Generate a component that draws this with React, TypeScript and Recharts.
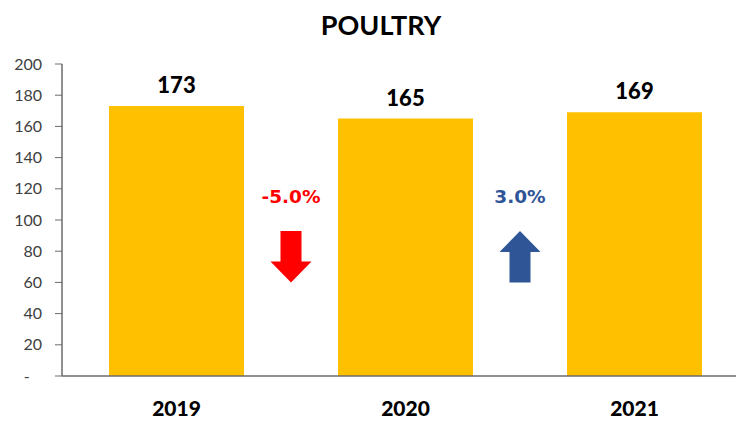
import { BarChart, Bar, XAxis, YAxis, LabelList } from 'recharts';

const years = ['2019', '2020', '2021'];
const poultry = [173, 165, 169];
const yTicks = [0, 20, 40, 60, 80, 100, 120, 140, 160, 180, 200];

// year-over-year change, drawn between each pair of bars
const changes = ['-5.0%', '3.0%'];
const changeDirections = ['down', 'up'];
const changeColors = ['#FF0000', '#2F5597'];

const CHART_W = 750;
const CHART_H = 422;
const Y_AXIS_W = 62;
const MARGIN = { top: 64, right: 1, bottom: 0, left: 0 };
const BAND = (CHART_W - Y_AXIS_W - MARGIN.right - MARGIN.left) / years.length;

// where the annotations sit, in axis units
const CHANGE_TEXT_AT = 111;
const ARROW_TOP = 93;
const ARROW_BOTTOM = 60;

const data = years.map((year, i) => ({ year, value: poultry[i] }));

function ChangeMark(props: any) {
  const { index } = props;
  if (index >= changes.length) return null;
  const vb = props.viewBox ?? props;
  const { x, y, width, height } = vb;
  const value = poultry[index];
  const base = y + height;
  const perUnit = height / value;
  const yOf = (v: number) => base - v * perUnit;
  const cx = x + width + (BAND - width) / 2;
  const top = yOf(ARROW_TOP);
  const bot = yOf(ARROW_BOTTOM);
  const hw = 20.5;
  const sw = 10.5;
  const head = 21;
  const pts =
    changeDirections[index] === 'down'
      ? [
          [cx - sw, top], [cx + sw, top], [cx + sw, bot - head], [cx + hw, bot - head],
          [cx, bot], [cx - hw, bot - head], [cx - sw, bot - head],
        ]
      : [
          [cx, top], [cx + hw, top + head], [cx + sw, top + head], [cx + sw, bot],
          [cx - sw, bot], [cx - sw, top + head], [cx - hw, top + head],
        ];
  const color = changeColors[index];
  return (
    <g>
      <text
        x={cx}
        y={yOf(CHANGE_TEXT_AT)}
        textAnchor="middle"
        fill={color}
        fontFamily="'DejaVu Sans', sans-serif"
        fontWeight="bold"
        fontSize={18.5}
      >
        {changes[index]}
      </text>
      <polygon points={pts.map((p) => p.join(',')).join(' ')} fill={color} />
    </g>
  );
}

export default function App() {
  return (
    <div
      style={{
        position: 'absolute',
        left: 0,
        top: 0,
        width: 736,
        height: 422,
        overflow: 'hidden',
        background: '#fff',
      }}
    >
      <div
        style={{
          position: 'absolute',
          top: 11,
          left: 0,
          width: 762,
          textAlign: 'center',
          fontFamily: 'Lato, sans-serif',
          fontWeight: 'bold',
          fontSize: 27,
          lineHeight: '27px',
          color: '#000',
        }}
      >
        POULTRY
      </div>
      <BarChart width={CHART_W} height={CHART_H} data={data} margin={MARGIN}>
        <XAxis
          dataKey="year"
          height={46}
          tickLine={false}
          tickSize={0}
          tickMargin={25}
          axisLine={{ stroke: '#6b6b6b', strokeWidth: 1.5 }}
          tick={{ fill: '#000', fontFamily: 'Lato, sans-serif', fontWeight: 900, fontSize: 21 }}
        />
        <YAxis
          width={Y_AXIS_W}
          domain={[0, 200]}
          ticks={yTicks}
          interval={0}
          tickSize={7}
          tickMargin={13}
          axisLine={{ stroke: '#6b6b6b', strokeWidth: 1.5 }}
          tickLine={{ stroke: '#6b6b6b' }}
          tickFormatter={(v: number) => (v === 0 ? '-\u00A0\u00A0\u00A0' : String(v))}
          tick={{ fill: '#404040', fontFamily: 'Lato, sans-serif', fontSize: 16 }}
        />
        <Bar dataKey="value" fill="#FFC000" barSize={135} isAnimationActive={false}>
          <LabelList
            dataKey="value"
            position="top"
            offset={13}
            fill="#000"
            fontFamily="Lato, sans-serif"
            fontWeight={900}
            fontSize={22}
          />
          <LabelList dataKey="value" content={ChangeMark} />
        </Bar>
      </BarChart>
    </div>
  );
}
